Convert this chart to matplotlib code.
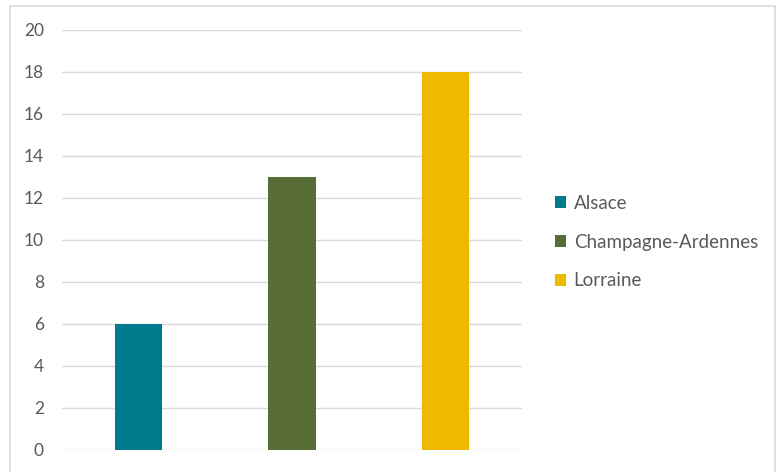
import matplotlib
matplotlib.use("Agg")
import matplotlib.pyplot as plt
from matplotlib.patches import Rectangle

categories = ["Alsace", "Champagne-Ardennes", "Lorraine"]
values = [6, 13, 18]
colors = ["#007A8C", "#586C35", "#EDBA00"]
yticks = [0, 2, 4, 6, 8, 10, 12, 14, 16, 18, 20]

plt.rcParams['font.family'] = ['Lato', 'DejaVu Sans']
fig = plt.figure(figsize=(7.81, 4.72), dpi=100)
ax = fig.add_axes([62/781, 1-450/472, 460/781, 420/472])

for i, (c, v, col) in enumerate(zip(categories, values, colors)):
    ax.bar(i, v, width=0.31, color=col, label=c, zorder=3)

ax.set_xlim(-0.5, 2.5)
ax.set_ylim(0, 20)
ax.set_yticks(yticks)
ax.set_yticklabels([str(t) for t in yticks], color="#595959", fontsize=12.5)
ax.set_xticks([])
ax.grid(axis="y", color="#D9D9D9", linewidth=1, zorder=0)
for s in ax.spines.values():
    s.set_visible(False)
ax.tick_params(axis="y", length=0, pad=13)

leg = ax.legend(loc="center left", bbox_to_anchor=(1.035, 0.495), frameon=False,
                fontsize=13.5, labelcolor="#595959", handlelength=0.6, handleheight=0.6,
                handletextpad=0.4, labelspacing=1.15)

fig.patches.append(Rectangle((10/781, -0.1), 765/781, 1.1 - 6/472, transform=fig.transFigure,
                             fill=False, edgecolor="#D9D9D9", linewidth=1.2, figure=fig))
fig.savefig("out.png", dpi=100)
